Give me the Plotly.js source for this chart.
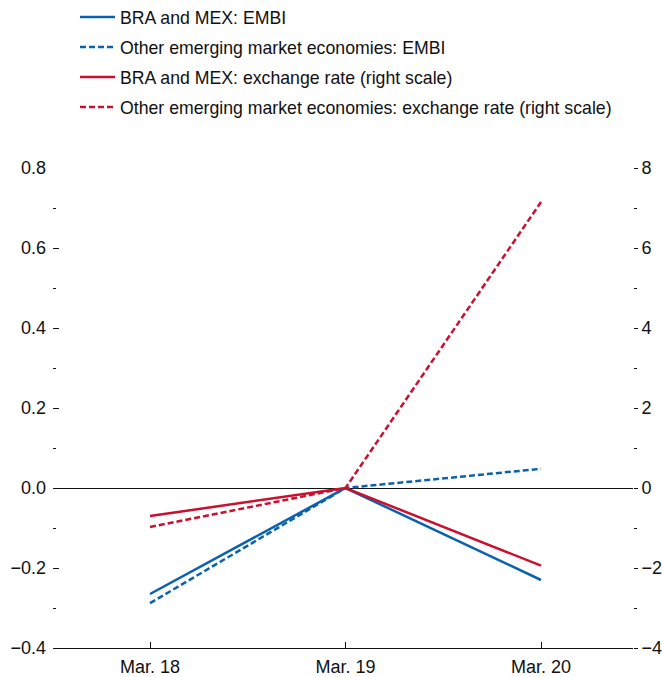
<!DOCTYPE html>
<html>
<head>
<meta charset="utf-8">
<script src="https://cdn.plot.ly/plotly-3.0.1.min.js"></script>
<style>html,body{margin:0;padding:0;background:#fff;}#chart{width:662px;height:677px;}</style>
</head>
<body>
<div id="chart"></div>
<script>
const categories = ['Mar. 18', 'Mar. 19', 'Mar. 20'];
const embiBraMex = [-0.265, 0, -0.23];
const embiOther = [-0.288, 0, 0.048];
const fxBraMex = [-0.7, 0, -1.94];
const fxOther = [-0.975, 0, 7.15];
const seriesNames = [
  'BRA and MEX: EMBI',
  'Other emerging market economies: EMBI',
  'BRA and MEX: exchange rate (right scale)',
  'Other emerging market economies: exchange rate (right scale)'
];
const leftTicks = [-0.4, -0.2, 0, 0.2, 0.4, 0.6, 0.8];
const leftTickText = ['\u22120.4', '\u22120.2', '0.0', '0.2', '0.4', '0.6', '0.8'];
const rightTicks = [-4, -2, 0, 2, 4, 6, 8];
const rightTickText = ['\u22124', '\u22122', '0', '2', '4', '6', '8'];

const BLUE = '#0a62ae';
const RED = '#c9102f';
const FONT = '"Liberation Sans Narrow", "Liberation Sans", Arial, sans-serif';

const traces = [
  {x: categories, y: embiBraMex, name: seriesNames[0], type: 'scatter', mode: 'lines', legendgroup: 'a',
   line: {color: BLUE, width: 2.5}, yaxis: 'y'},
  {x: categories, y: embiOther, name: seriesNames[1], type: 'scatter', mode: 'lines', legendgroup: 'b',
   line: {color: BLUE, width: 2.5, dash: '6px,3px'}, yaxis: 'y'},
  {x: categories, y: fxBraMex, name: seriesNames[2], type: 'scatter', mode: 'lines', legendgroup: 'c',
   line: {color: RED, width: 2.5}, yaxis: 'y2'},
  {x: categories, y: fxOther, name: seriesNames[3], type: 'scatter', mode: 'lines', legendgroup: 'd',
   line: {color: RED, width: 2.5, dash: '6px,3px'}, yaxis: 'y2'}
];

const layout = {
  width: 662, height: 677,
  margin: {l: 53, r: 29, t: 168, b: 29, pad: 0, autoexpand: false},
  paper_bgcolor: '#fff', plot_bgcolor: '#fff',
  font: {family: FONT, size: 18, color: '#111'},
  showlegend: true,
  legend: {
    x: (75 - 53) / 580, xanchor: 'left',
    y: 1 + (168 + 1) / 480, yanchor: 'top',
    font: {family: FONT, size: 17.7, color: '#111'},
    bgcolor: 'rgba(0,0,0,0)', tracegroupgap: 4, itemwidth: 35
  },
  xaxis: {
    type: 'category',
    range: [(53 - 150) / 195.5, (633 - 150) / 195.5],
    showgrid: false, zeroline: false,
    showline: true, linecolor: '#111', linewidth: 1,
    ticks: 'inside', ticklen: 6, tickcolor: '#111', tickwidth: 1,
    ticklabelstandoff: 2,
    tickfont: {family: FONT, size: 18, color: '#111'},
    fixedrange: true, automargin: false
  },
  yaxis: {
    range: [-0.4, 0.8],
    tickmode: 'array', tickvals: leftTicks, ticktext: leftTickText,
    showgrid: false,
    zeroline: true, zerolinecolor: '#111', zerolinewidth: 1,
    showline: false,
    ticks: 'inside', ticklen: 6, tickcolor: '#111', tickwidth: 1,
    ticklabelstandoff: 6,
    minor: {dtick: 0.1, tick0: 0, ticks: 'inside', ticklen: 3, tickcolor: '#111', tickwidth: 1, showgrid: false},
    tickfont: {family: FONT, size: 18, color: '#111'},
    fixedrange: true, automargin: false
  },
  yaxis2: {
    range: [-4, 8], overlaying: 'y', side: 'right',
    tickmode: 'array', tickvals: rightTicks, ticktext: rightTickText,
    showgrid: false, zeroline: false, showline: false,
    ticks: 'outside', ticklen: 4, tickcolor: '#111', tickwidth: 1,
    minor: {dtick: 1, tick0: 0, ticks: 'outside', ticklen: 3, tickcolor: '#111', tickwidth: 1, showgrid: false},
    tickfont: {family: FONT, size: 18, color: '#111'},
    fixedrange: true, automargin: false
  }
};

Plotly.newPlot('chart', traces, layout, {displayModeBar: false, staticPlot: true});
</script>
</body>
</html>
